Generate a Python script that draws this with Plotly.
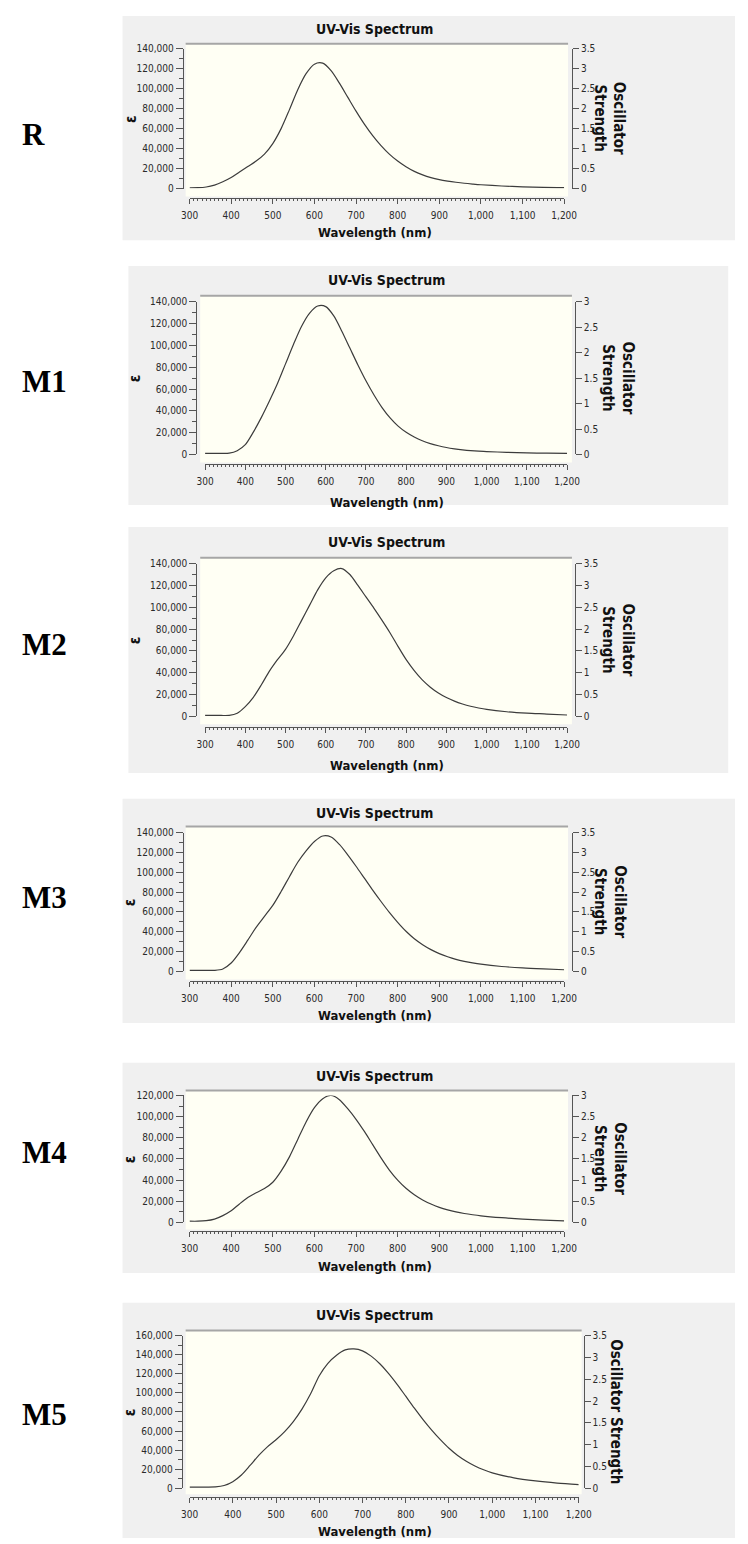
import plotly.graph_objects as go

W, H = 748, 1544

# ---------------- data ----------------
WAVELENGTH = [300, 320, 340, 360, 380, 400, 420, 440, 460, 480, 500, 520, 540, 560, 580,
              600, 620, 640, 660, 680, 700, 720, 740, 760, 780, 800, 820, 840, 860, 880,
              900, 920, 940, 960, 980, 1000, 1050, 1100, 1150, 1200]

EPS_R = [800, 900, 1600, 3500, 6800, 11000, 16500, 22000, 27500, 34500, 45000, 60000, 79000, 99000, 115000,
         124500, 125500, 118000, 105500, 91500, 77500, 64500, 53000, 43000, 34500, 27500, 21800, 17200, 13700, 11000,
         9000, 7500, 6300, 5300, 4500, 3800, 2600, 1700, 1100, 900]
EPS_M1 = [1000, 1000, 1000, 1200, 3500, 9000, 20500, 34000, 49000, 65000, 83000, 101000, 117500, 129500, 136000,
          135500, 127000, 113000, 97500, 82000, 67500, 54500, 43000, 33500, 26000, 20300, 16000, 12600, 10000, 8000,
          6400, 5200, 4300, 3600, 3100, 2700, 2000, 1500, 1200, 1000]
EPS_M2 = [900, 900, 900, 1000, 3000, 9000, 17500, 29000, 41500, 52000, 61500, 74000, 88000, 102000, 116000,
          127000, 133500, 135500, 130000, 120000, 109500, 99000, 88000, 76500, 64000, 52000, 42000, 33500, 26800, 21500,
          17300, 14000, 11400, 9300, 7700, 6400, 4300, 3000, 2200, 1300]
EPS_M3 = [1000, 1000, 1000, 1100, 2500, 8500, 19000, 31500, 44500, 55500, 66500, 80500, 95500, 110000, 121500,
          131000, 136500, 135500, 128000, 117500, 106000, 94000, 82000, 70500, 59500, 49500, 40500, 33000, 27000, 22000,
          18000, 14800, 12200, 10200, 8600, 7300, 5000, 3500, 2500, 1700]
EPS_M4 = [1200, 1200, 1700, 3200, 6500, 11000, 17500, 23500, 28000, 32000, 38000, 48500, 62000, 78500, 95000,
          108500, 117000, 120000, 116000, 107500, 97500, 86000, 73500, 61000, 49500, 40000, 32300, 26200, 21300, 17400,
          14300, 11900, 10000, 8500, 7300, 6300, 4500, 3200, 2300, 1500]
EPS_M5 = [1400, 1400, 1400, 1600, 3000, 7000, 14000, 24000, 34500, 43500, 51000, 59500, 70000, 83000, 99000,
          118000, 131000, 139500, 145000, 146000, 144000, 138500, 130500, 120500, 109000, 96500, 84000, 72000, 61000, 51000,
          42000, 34500, 28500, 23500, 19500, 16300, 11000, 7800, 5600, 4000]

SERIES = [EPS_R, EPS_M1, EPS_M2, EPS_M3, EPS_M4, EPS_M5]
PANEL_LABELS = ["R", "M1", "M2", "M3", "M4", "M5"]
EPS_MAX = [140000, 140000, 140000, 140000, 120000, 160000]
OSC_MAX = [3.5, 3, 3.5, 3.5, 3, 3.5]
TITLE = "UV-Vis Spectrum"
X_TITLE = "Wavelength (nm)"
Y_TITLE = "ε"
RIGHT_TITLES = ["Oscillator<br>Strength"] * 5 + ["Oscillator Strength"]

# ---------------- geometry (pixels) ----------------
GEOM = [
    dict(bg=(117, 10, 748, 236), cream=(182, 38, 576, 192), x0=186, x1=572, yb=184, yt=43,
         yax=179, y2ax=580, xax=193, title=23, xtitle=228, tcx=377, eps_x=125, rt_x=619, label=(25, 130)),
    dict(bg=(123, 262, 741, 503), cream=(197, 292, 580, 460), x0=202, x1=575, yb=452, yt=298,
         yax=193, y2ax=583, xax=462, title=276, xtitle=500, tcx=389, eps_x=130, rt_x=627, label=(37, 378)),
    dict(bg=(123, 525, 741, 773), cream=(197, 556, 580, 724), x0=202, x1=575, yb=716, yt=562,
         yax=193, y2ax=583, xax=727, title=540, xtitle=765, tcx=389, eps_x=130, rt_x=627, label=(37, 643)),
    dict(bg=(117, 799, 748, 1025), cream=(182, 827, 576, 981), x0=186, x1=572, yb=973, yt=833,
         yax=179, y2ax=580, xax=983, title=813, xtitle=1017, tcx=377, eps_x=125, rt_x=619, label=(37, 898)),
    dict(bg=(117, 1065, 748, 1277), cream=(182, 1093, 576, 1233), x0=186, x1=572, yb=1226, yt=1098,
         yax=179, y2ax=580, xax=1235, title=1078, xtitle=1270, tcx=377, eps_x=125, rt_x=619, label=(37, 1155)),
    dict(bg=(117, 1307, 748, 1544), cream=(182, 1335, 590, 1500), x0=186, x1=587, yb=1494, yt=1340,
         yax=178, y2ax=592, xax=1503, title=1319, xtitle=1537, tcx=377, eps_x=125, rt_x=625, label=(37, 1420)),
]

FONT = "DejaVu Sans Condensed, DejaVu Sans, sans-serif"
AX = "#555555"
TXT = "#2a2a2a"
BG = "#f0f0f0"
CREAM = "#fffff4"


def fx(px):
    return px / W


def fy(py):
    return 1 - py / H


fig = go.Figure()
shapes = []
annotations = []
layout_axes = {}

for i, (g, eps) in enumerate(zip(GEOM, SERIES)):
    n = i + 1
    n2 = i + 7
    xa = "x" if n == 1 else f"x{n}"
    ya = "y" if n == 1 else f"y{n}"
    ya2 = f"y{n2}"

    fig.add_trace(go.Scatter(x=WAVELENGTH, y=eps, xaxis=xa, yaxis=ya, mode="lines",
                             line=dict(color="#3c3c3c", width=1.2, shape="spline", smoothing=0.8),
                             hoverinfo="skip", showlegend=False))
    fig.add_trace(go.Scatter(x=[WAVELENGTH[-1]], y=[0], xaxis=xa, yaxis=ya2, mode="markers",
                             marker=dict(opacity=0), hoverinfo="skip", showlegend=False))

    tickfont = dict(family=FONT, size=10, color=TXT)
    layout_axes[f"xaxis{'' if n == 1 else n}"] = dict(
        domain=[fx(g["x0"]), fx(g["x1"])], range=[300, 1200], anchor="free", position=fy(g["xax"]),
        showline=True, linecolor=AX, linewidth=1, ticks="outside", ticklen=5, tickcolor=AX,
        tick0=300, dtick=100, tickformat=",", tickfont=tickfont, ticklabelstandoff=3,
        minor=dict(dtick=10, ticklen=2, ticks="outside", tickcolor=AX),
        showgrid=False, zeroline=False, fixedrange=True)
    ydom = [fy(g["yb"]), fy(g["yt"])]
    layout_axes[f"yaxis{'' if n == 1 else n}"] = dict(
        domain=ydom, range=[0, EPS_MAX[i]], anchor="free", position=fx(g["yax"]),
        showline=True, linecolor=AX, linewidth=1, ticks="outside", ticklen=7, tickcolor=AX,
        tick0=0, dtick=20000, tickformat=",", tickfont=tickfont,
        minor=dict(dtick=10000, ticklen=4, ticks="outside", tickcolor=AX),
        showgrid=False, zeroline=False, fixedrange=True)
    layout_axes[f"yaxis{n2}"] = dict(
        domain=ydom, range=[0, OSC_MAX[i]], anchor="free", position=fx(g["y2ax"]),
        overlaying=ya, side="right",
        showline=True, linecolor=AX, linewidth=1, ticks="outside", ticklen=6, tickcolor=AX,
        tick0=0, dtick=0.5, tickfont=tickfont,
        showgrid=False, zeroline=False, fixedrange=True)

    bx0, by0, bx1, by1 = g["bg"]
    shapes.append(dict(type="rect", xref="paper", yref="paper", x0=fx(bx0), x1=fx(bx1), y0=fy(by1), y1=fy(by0),
                       fillcolor=BG, line=dict(width=0), layer="below"))
    cx0, cy0, cx1, cy1 = g["cream"]
    shapes.append(dict(type="rect", xref="paper", yref="paper", x0=fx(cx0), x1=fx(cx1), y0=fy(cy1), y1=fy(cy0),
                       fillcolor=CREAM, line=dict(width=0), layer="below"))
    shapes.append(dict(type="line", xref="paper", yref="paper", x0=fx(cx0), x1=fx(cx1), y0=fy(cy0), y1=fy(cy0),
                       line=dict(color="#a6a6a6", width=2), layer="below"))

    annotations.append(dict(text=f"<b>{TITLE}</b>", x=fx(g["tcx"]), y=fy(g["title"]), xref="paper", yref="paper",
                            showarrow=False, xanchor="center", yanchor="middle",
                            font=dict(family=FONT, size=14, color="#111111")))
    annotations.append(dict(text=f"<b>{X_TITLE}</b>", x=fx(g["tcx"]), y=fy(g["xtitle"]), xref="paper", yref="paper",
                            showarrow=False, xanchor="center", yanchor="middle",
                            font=dict(family=FONT, size=13, color="#111111")))
    ymid = (g["yb"] + g["yt"]) / 2
    annotations.append(dict(text=f"<b>{Y_TITLE}</b>", x=fx(g["eps_x"]), y=fy(ymid), xref="paper", yref="paper",
                            showarrow=False, xanchor="center", yanchor="middle", textangle=-90,
                            font=dict(family=FONT, size=15, color="#111111")))
    annotations.append(dict(text=f"<b>{RIGHT_TITLES[i]}</b>", x=fx(g["rt_x"]), y=fy(ymid), xref="paper",
                            yref="paper", showarrow=False, xanchor="center", yanchor="middle", textangle=90,
                            font=dict(family=FONT, size=15, color="#111111")))
    lx, ly = g["label"]
    annotations.append(dict(text=f"<b>{PANEL_LABELS[i]}</b>", x=fx(lx), y=fy(ly), xref="paper", yref="paper",
                            showarrow=False, xanchor="center", yanchor="middle",
                            font=dict(family="Liberation Serif, Times New Roman, serif", size=31, color="#000000")))

fig.update_layout(
    width=W, height=H, margin=dict(l=0, r=0, t=0, b=0),
    paper_bgcolor="#ffffff", plot_bgcolor="rgba(0,0,0,0)",
    showlegend=False, shapes=shapes, annotations=annotations,
    **layout_axes,
)

fig.write_html("out.html")
